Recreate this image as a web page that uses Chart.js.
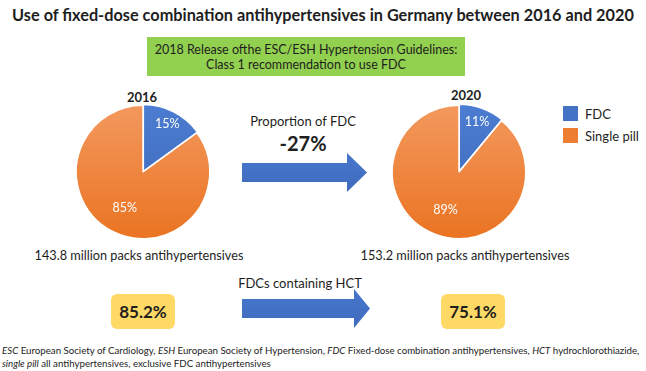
<!DOCTYPE html>
<html>
<head>
<meta charset="utf-8">
<script src="https://cdn.jsdelivr.net/npm/chart.js@4.4.1/dist/chart.umd.min.js"></script>
<style>
  body { margin: 0; background: #fff; font-family: Lato, "Open Sans", sans-serif; color: #1e1e1e; }
  #page { position: relative; width: 646px; height: 371px; overflow: hidden; }
  .t { position: absolute; white-space: nowrap; transform: translate(-50%, -50%); }
  .pie { position: absolute; }
  .box { position: absolute; display: flex; align-items: center; justify-content: center; text-align: center; }
  .arrow { position: absolute; background: linear-gradient(#4677cc, #3f6bbd); }
  .sw { position: absolute; width: 15px; height: 15px; }
  .lg { position: absolute; font-size: 13px; transform: translateY(-50%); white-space: nowrap; }
  #note { position: absolute; left: 2px; top: 344px; font-size: 9.7px; line-height: 13px; white-space: nowrap; color: #222; }
</style>
</head>
<body>
<div id="page">
  <div class="t" id="title" style="left:323px;top:14px;font-size:16.3px;font-weight:bold;"></div>

  <div class="box" style="left:147px;top:37px;width:318px;height:39px;background:#92d050;font-size:12.5px;line-height:15px;">
    2018 Release ofthe ESC/ESH Hypertension Guidelines:<br>Class 1 recommendation to use FDC
  </div>

  <div class="t" id="y0" style="left:142px;top:97px;font-size:13px;font-weight:bold;"></div>
  <div class="t" id="y1" style="left:466px;top:95px;font-size:13px;font-weight:bold;"></div>

  <canvas class="pie" id="pie0" width="150" height="150" style="left:68px;top:97px;"></canvas>
  <canvas class="pie" id="pie1" width="150" height="150" style="left:384px;top:97px;"></canvas>

  <div id="legend"></div>

  <div class="t" style="left:303px;top:121px;font-size:13px;">Proportion of FDC</div>
  <div class="t" id="change" style="left:303px;top:143px;font-size:20px;font-weight:bold;"></div>
  <div class="arrow" style="left:242px;top:153px;width:125px;height:39px;clip-path:polygon(0 10px,105px 10px,105px 0,125px 19.5px,105px 39px,105px 29px,0 29px);"></div>

  <div class="t" id="packs0" style="left:139px;top:255px;font-size:12.7px;"></div>
  <div class="t" id="packs1" style="left:465px;top:255px;font-size:12.7px;"></div>

  <div class="t" style="left:300px;top:283px;font-size:13px;">FDCs containing HCT</div>
  <div class="arrow" style="left:242px;top:289px;width:128px;height:39px;clip-path:polygon(0 10px,112px 10px,112px 0,128px 19.5px,112px 39px,112px 29px,0 29px);"></div>

  <div class="box" id="hct0" style="left:111px;top:294px;width:64px;height:35px;background:#ffd966;border-radius:6px;font-size:17px;font-weight:bold;"></div>
  <div class="box" id="hct1" style="left:441px;top:294px;width:64px;height:35px;background:#ffd966;border-radius:6px;font-size:17px;font-weight:bold;"></div>

  <div id="note"><i>ESC</i> European Society of Cardiology, <i>ESH</i> European Society of Hypertension, <i>FDC</i> Fixed-dose combination antihypertensives, <i>HCT</i> hydrochlorothiazide,<br><i>single pill</i> all antihypertensives, exclusive FDC antihypertensives</div>
</div>

<script>
const categories = ['FDC', 'Single pill'];
const years = ['2016', '2020'];
const share2016 = [15, 85];
const share2020 = [11, 89];
const packsMillion = [143.8, 153.2];
const hctShare = [85.2, 75.1];
const fdcChange = -27;

const colors = ['#4472c4', '#ed7d31'];
// gradient stops per slice, top -> bottom
const gradTop = ['#4b7dd2', '#f3995f'];
const gradBottom = ['#3d67b6', '#ea7321'];

document.getElementById('title').textContent =
  'Use of fixed-dose combination antihypertensives in Germany between ' + years[0] + ' and ' + years[1];
document.getElementById('y0').textContent = years[0];
document.getElementById('y1').textContent = years[1];
document.getElementById('change').textContent = fdcChange + '%';
document.getElementById('packs0').textContent = packsMillion[0].toFixed(1) + ' million packs antihypertensives';
document.getElementById('packs1').textContent = packsMillion[1].toFixed(1) + ' million packs antihypertensives';
document.getElementById('hct0').textContent = hctShare[0].toFixed(1) + '%';
document.getElementById('hct1').textContent = hctShare[1].toFixed(1) + '%';

// legend next to the 2020 pie
const legend = document.getElementById('legend');
categories.forEach((name, i) => {
  const top = 106 + i * 22;
  legend.innerHTML += '<div class="sw" style="left:563px;top:' + top + 'px;background:' + colors[i] + '"></div>'
    + '<div class="lg" style="left:585px;top:' + (top + 7.5) + 'px">' + name + '</div>';
});

// office style vertical gradient, one per slice
function shade(c) {
  const area = c.chart.chartArea;
  const i = c.dataIndex || 0;
  if (!area) return colors[i];
  const g = c.chart.ctx.createLinearGradient(0, area.top, 0, area.bottom);
  g.addColorStop(0, gradTop[i]);
  g.addColorStop(1, gradBottom[i]);
  return g;
}

const sliceLabels = {
  id: 'sliceLabels',
  afterDatasetsDraw(chart) {
    const { ctx } = chart;
    const meta = chart.getDatasetMeta(0);
    ctx.save();
    ctx.fillStyle = '#fff';
    ctx.font = '12.5px Lato';
    ctx.textAlign = 'center';
    ctx.textBaseline = 'middle';
    meta.data.forEach((arc, i) => {
      const v = chart.data.datasets[0].data[i];
      const mid = (arc.startAngle + arc.endAngle) / 2;
      const r = arc.outerRadius * (v < 50 ? 0.8 : 0.6);
      ctx.fillText(v + '%', arc.x + Math.cos(mid) * r, arc.y + Math.sin(mid) * r);
    });
    ctx.restore();
  }
};

function makePie(id, values) {
  new Chart(document.getElementById(id), {
    type: 'pie',
    plugins: [sliceLabels],
    data: {
      labels: categories,
      datasets: [{
        data: values,
        backgroundColor: shade,
        borderColor: '#fff',
        borderWidth: 1.5,
        offset: [3, 0]
      }]
    },
    options: {
      responsive: false,
      animation: false,
      layout: { padding: 6 },
      plugins: { legend: { display: false }, tooltip: { enabled: false } }
    }
  });
}

makePie('pie0', share2016);
makePie('pie1', share2020);
</script>
</body>
</html>
